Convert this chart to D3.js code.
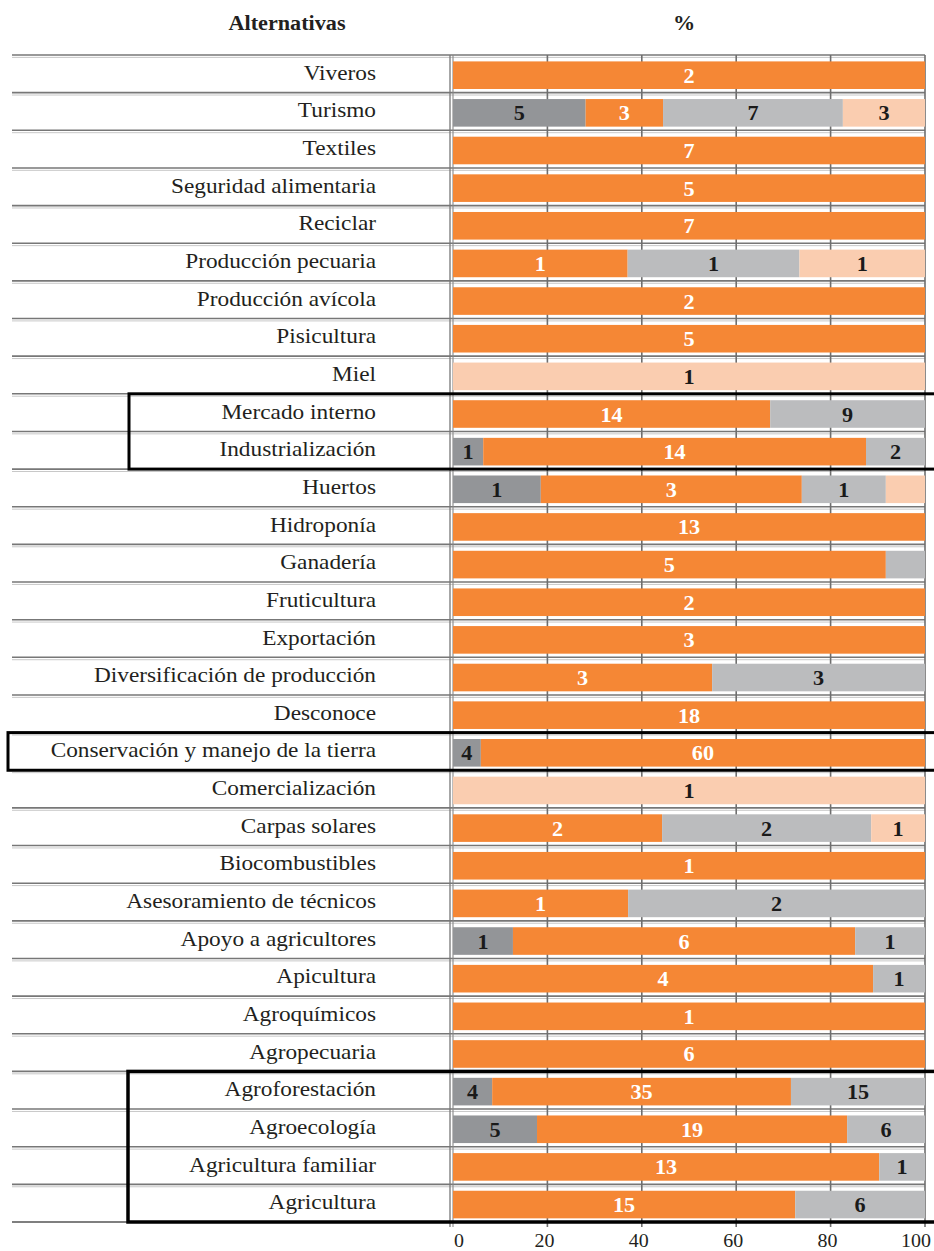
<!DOCTYPE html>
<html><head><meta charset="utf-8">
<script src="https://cdn.jsdelivr.net/npm/d3@7"></script>
<style>body{margin:0;background:#fff}svg{display:block}</style>
</head><body>
<script>
const categories = ["Viveros","Turismo","Textiles","Seguridad alimentaria","Reciclar","Producción pecuaria","Producción avícola","Pisicultura","Miel","Mercado interno","Industrialización","Huertos","Hidroponía","Ganadería","Fruticultura","Exportación","Diversificación de producción","Desconoce","Conservación y manejo de la tierra","Comercialización","Carpas solares","Biocombustibles","Asesoramiento de técnicos","Apoyo a agricultores","Apicultura","Agroquímicos","Agropecuaria","Agroforestación","Agroecología","Agricultura familiar","Agricultura"];
// segment shares (%)
const pctDark   = [0,28.1,0,0,0,0,0,0,0,0,6.4,18.6,0,0,0,0,0,0,5.9,0,0,0,0,12.7,0,0,0,8.3,17.8,0,0];
const pctOrange = [100,16.4,100,100,100,37,100,100,0,67.2,81.1,55.3,100,91.7,100,100,54.9,100,94.1,0,44.3,100,37.1,72.5,89,100,100,63.3,65.7,90.3,72.5];
const pctLight  = [0,38.1,0,0,0,36.4,0,0,0,32.8,12.5,17.8,0,8.3,0,0,45.1,0,0,0,44.3,0,62.9,14.8,11,0,0,28.4,16.5,9.7,27.5];
const pctPeach  = [0,17.4,0,0,0,26.6,0,0,100,0,0,8.3,0,0,0,0,0,0,0,100,11.4,0,0,0,0,0,0,0,0,0,0];
// counts shown as data labels
const lblDark   = ["","5","","","","","","","","","1","1","","","","","","","4","","","","","1","","","","4","5","",""];
const lblOrange = ["2","3","7","5","7","1","2","5","","14","14","3","13","5","2","3","3","18","60","","2","1","1","6","4","1","6","35","19","13","15"];
const lblLight  = ["","7","","","","1","","","","9","2","1","","","","","3","","","","2","","2","1","1","","","15","6","1","6"];
const lblPeach  = ["","3","","","","1","","","1","","","","","","","","","","","1","1","","","","","","","","","",""];
const ticks = [0,20,40,60,80,100];
const headers = ["Alternativas","%"];
const boxes = [["Mercado interno","Industrialización"],["Conservación y manejo de la tierra","Conservación y manejo de la tierra"],["Agroforestación","Agricultura"]];

const W=934,H=1251;
const svg=d3.select("body").append("svg").attr("width",W).attr("height",H);
const FONT="'Liberation Serif', 'DejaVu Serif', serif";
const SX=1.11;
const x=d3.scaleLinear().domain([0,100]).range([453,925]);
const y=d3.scaleBand().domain(categories).range([55,1222]).paddingInner(0).paddingOuter(0);
const step=y.step();

const series=[
 {key:"dark",pct:pctDark,lbl:lblDark,fill:"#939598",txt:"#1a1a1a"},
 {key:"orange",pct:pctOrange,lbl:lblOrange,fill:"#F58735",txt:"#ffffff"},
 {key:"light",pct:pctLight,lbl:lblLight,fill:"#BBBCBE",txt:"#1a1a1a"},
 {key:"peach",pct:pctPeach,lbl:lblPeach,fill:"#FACDB0",txt:"#1a1a1a"}
];
const table=categories.map((c,i)=>{const o={cat:c};series.forEach(s=>o[s.key]=s.pct[i]);return o;});
const stacked=d3.stack().keys(series.map(s=>s.key))(table);

// row separator lines (double)
const bounds=d3.range(categories.length+1).map(i=>55+i*step);
const gl=svg.append("g");
bounds.forEach((b,i)=>{
  gl.append("line").attr("x1",12).attr("x2",925).attr("y1",b).attr("y2",b).attr("stroke","#777").attr("stroke-width",1.6);
  if(i<categories.length) gl.append("line").attr("x1",12).attr("x2",925).attr("y1",b+2.4).attr("y2",b+2.4).attr("stroke","#c8c8c8").attr("stroke-width",1);
});
// vertical gridlines
ticks.slice(1).forEach(t=>{
  gl.append("line").attr("x1",x(t)).attr("x2",x(t)).attr("y1",55).attr("y2",1227).attr("stroke","#6e6e6e").attr("stroke-width",1.6);
});
gl.append("line").attr("x1",x(0)-3).attr("x2",x(0)-3).attr("y1",55).attr("y2",1227).attr("stroke","#777").attr("stroke-width",1.3);
gl.append("line").attr("x1",x(0)).attr("x2",x(0)).attr("y1",55).attr("y2",1227).attr("stroke","#888").attr("stroke-width",1.1);

// bars
const bh=27.6, boff=6.4;
stacked.forEach((layer,si)=>{
  const s=series[si];
  const g=svg.append("g");
  g.selectAll("rect").data(layer.filter(d=>d[1]-d[0]>0)).join("rect")
   .attr("x",d=>x(d[0])).attr("width",d=>x(d[1])-x(d[0]))
   .attr("y",d=>y(d.data.cat)+boff).attr("height",bh).attr("fill",s.fill);
  g.selectAll("text").data(layer.map((d,i)=>({d,l:s.lbl[i]})).filter(o=>o.l!=="")).join("text")
   .attr("transform",o=>`translate(${(x(o.d[0])+x(o.d[1]))/2},${y(o.d.data.cat)+boff+bh/2+7.5}) scale(${SX},1)`)
   .attr("text-anchor","middle").attr("font-family",FONT).attr("font-weight","bold").attr("font-size",20)
   .attr("fill",s.txt).text(o=>o.l);
});

// category labels
svg.append("g").selectAll("text").data(categories).join("text")
  .attr("transform",c=>`translate(376,${y(c)+step/2+6}) scale(${1.11},1)`).attr("text-anchor","end")
  .attr("font-family",FONT).attr("font-size",21).attr("fill","#231f20").text(c=>c);

// headers
svg.append("text").attr("transform",`translate(287,30) scale(${SX},1)`).attr("text-anchor","middle").attr("font-family",FONT).attr("font-weight","bold").attr("font-size",20).attr("fill","#231f20").text(headers[0]);
svg.append("text").attr("transform",`translate(${(x(0)+x(100))/2-5},30) scale(${SX},1)`).attr("text-anchor","middle").attr("font-family",FONT).attr("font-weight","bold").attr("font-size",20).attr("fill","#231f20").text(headers[1]);

// x axis tick labels
svg.append("g").selectAll("text").data(ticks).join("text")
  .attr("transform",(t,i)=>`translate(${i===0?x(t)+6:(i===ticks.length-1?x(t)-9:x(t)-3)},1247) scale(1.08,1)`)
  .attr("text-anchor","middle").attr("font-family",FONT).attr("font-size",18.5).attr("fill","#231f20").text(t=>t);

// bottom gray line at left
svg.append("line").attr("x1",12).attr("x2",130).attr("y1",1222).attr("y2",1222).attr("stroke","#777").attr("stroke-width",1.6);

// highlight boxes
const boxLeft=[129,8,128];
boxes.forEach((b,i)=>{
  const top=y(b[0]), bot=y(b[1])+step;
  svg.append("rect").attr("x",boxLeft[i]).attr("y",top).attr("width",W+20-boxLeft[i]).attr("height",bot-top)
    .attr("fill","none").attr("stroke","#000").attr("stroke-width",i===2?3.5:3);
});
</script>
</body></html>
